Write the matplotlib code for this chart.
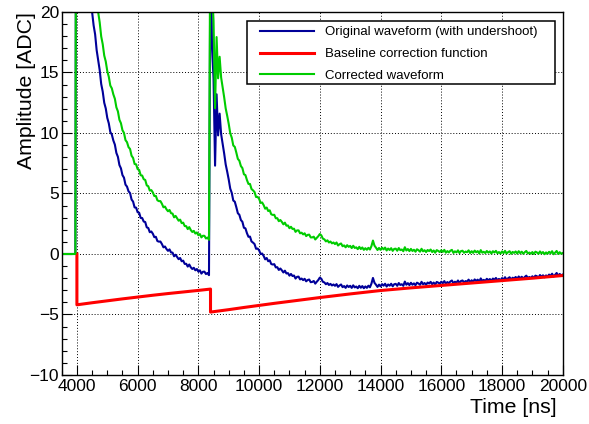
import numpy as np
import matplotlib
matplotlib.use('Agg')
import matplotlib.pyplot as plt
from matplotlib.patches import Rectangle
from matplotlib.ticker import MultipleLocator

# sampled waveforms, one value every 50 ns from 3500 ns to 20000 ns
time_ns = np.arange(3500, 20001, 50)

original = [
    0, 0, 0, 0, 0, 0, 0, 0, 0, 0,
    75.0, 55.0, 44.0, 37.0, 32.0, 28.5, 25.8, 23.9, 22.1, 20.9,
    20.0, 18.9, 18.15, 16.85, 16.05, 15.2, 14.05, 13.42, 12.5, 12.03,
    11.25, 10.8, 10.08, 9.87, 9.38, 9.04, 8.35, 8.03, 7.35, 7.08,
    6.52, 6.31, 5.73, 5.57, 5.18, 5.04, 4.5, 4.33, 3.85, 3.83,
    3.45, 3.41, 2.98, 2.97, 2.68, 2.64, 2.2, 2.15, 1.8, 1.86,
    1.68, 1.39, 1.42, 1.07, 1.02, 1.03, 0.82, 0.55, 0.62, 0.41,
    0.26, 0.38, 0.13, 0.11, -0.19, -0.06, -0.24, -0.43, -0.33, -0.6,
    -0.55, -0.82, -0.81, -1.04, -0.87, -1.1, -1.24, -1.14, -1.35, -1.24,
    -1.46, -1.35, -1.62, -1.47, -1.46, -1.66, -1.57, -1.75, 28.0, 17.0,
    14.5, 7.3, 13.2, 9.8, 11.6, 9.9, 9.1, 8.3, 7.4, 6.8,
    6.15, 5.4, 5.05, 4.42, 4.32, 3.87, 3.37, 3.24, 2.81, 2.66,
    2.17, 2.12, 1.72, 1.42, 1.44, 1.04, 0.94, 0.82, 0.43, 0.45,
    0.31, -0.01, 0.04, -0.16, -0.44, -0.33, -0.6, -0.52, -0.83, -0.87,
    -0.84, -1.11, -1.09, -1.32, -1.2, -1.35, -1.53, -1.38, -1.61, -1.58,
    -1.79, -1.65, -1.82, -1.78, -2.03, -1.89, -1.87, -2.1, -2.03, -2.16,
    -2.05, -2.26, -2.15, -2.11, -2.33, -2.31, -2.23, -2.45, -2.29, -2.15,
    -1.95, -2.05, -2.3, -2.35, -2.5, -2.4, -2.56, -2.47, -2.6, -2.52,
    -2.63, -2.49, -2.72, -2.6, -2.52, -2.74, -2.65, -2.8, -2.6, -2.73,
    -2.63, -2.8, -2.59, -2.76, -2.69, -2.83, -2.63, -2.79, -2.65, -2.83,
    -2.68, -2.8, -2.62, -2.75, -2.45, -1.98, -2.38, -2.54, -2.72, -2.53,
    -2.68, -2.49, -2.62, -2.46, -2.69, -2.52, -2.62, -2.46, -2.67, -2.5,
    -2.47, -2.63, -2.4, -2.56, -2.5, -2.63, -2.28, -2.54, -2.41, -2.57,
    -2.38, -2.54, -2.43, -2.58, -2.37, -2.44, -2.55, -2.3, -2.5, -2.4,
    -2.54, -2.36, -2.44, -2.3, -2.5, -2.36, -2.53, -2.31, -2.37, -2.45,
    -2.29, -2.42, -2.24, -2.46, -2.32, -2.42, -2.27, -2.19, -2.43, -2.29,
    -2.37, -2.19, -2.4, -2.23, -2.19, -2.35, -2.24, -2.28, -2.12, -2.33,
    -2.17, -2.3, -2.1, -2.23, -2.12, -2.3, -2.02, -2.22, -2.14, -2.23,
    -2.05, -2.18, -2.07, -2.23, -2.03, -2.13, -1.98, -2.17, -2.06, -2.18,
    -1.99, -2.12, -1.92, -2.13, -2.01, -1.92, -2.12, -1.96, -2.03, -1.9,
    -2.06, -1.86, -2.01, -1.88, -2.04, -1.9, -1.79, -1.99, -1.9, -1.99,
    -1.84, -1.99, -1.79, -1.84, -1.95, -1.74, -1.88, -1.76, -1.93, -1.77,
    -1.87, -1.7, -1.81, -1.63, -1.87, -1.72, -1.57, -1.81, -1.65, -1.77,
    -1.7,
]

corrected = [
    0, 0, 0, 0, 0, 0, 0, 0, 0, 0,
    79.2, 59.2, 48.2, 41.2, 36.1, 32.6, 29.9, 28.0, 26.2, 25.0,
    24.03, 22.91, 22.15, 20.83, 20.01, 19.15, 17.98, 17.34, 16.4, 15.91,
    15.12, 14.65, 13.92, 13.69, 13.19, 12.83, 12.12, 11.79, 11.09, 10.81,
    10.23, 10.01, 9.41, 9.24, 8.83, 8.68, 8.12, 7.94, 7.44, 7.41,
    7.01, 6.95, 6.51, 6.48, 6.18, 6.12, 5.67, 5.6, 5.24, 5.28,
    5.09, 4.79, 4.8, 4.44, 4.37, 4.37, 4.15, 3.86, 3.92, 3.69,
    3.53, 3.64, 3.37, 3.34, 3.03, 3.15, 2.95, 2.75, 2.84, 2.55,
    2.59, 2.31, 2.3, 2.06, 2.22, 1.98, 1.82, 1.91, 1.69, 1.78,
    1.55, 1.65, 1.37, 1.51, 1.5, 1.28, 1.36, 1.17, 32.8, 21.8,
    19.27, 12.05, 17.93, 14.52, 16.3, 14.58, 13.77, 12.95, 12.03, 11.42,
    10.75, 9.98, 9.61, 8.97, 8.85, 8.38, 7.86, 7.71, 7.27, 7.1,
    6.59, 6.52, 6.11, 5.79, 5.79, 5.37, 5.26, 5.12, 4.71, 4.72,
    4.56, 4.22, 4.26, 4.04, 3.74, 3.84, 3.55, 3.61, 3.28, 3.23,
    3.24, 2.95, 2.96, 2.71, 2.81, 2.65, 2.45, 2.59, 2.34, 2.36,
    2.13, 2.25, 2.07, 2.09, 1.83, 1.95, 1.95, 1.71, 1.76, 1.62,
    1.71, 1.48, 1.58, 1.6, 1.37, 1.37, 1.43, 1.2, 1.34, 1.47,
    1.65, 1.54, 1.27, 1.21, 1.04, 1.13, 0.95, 1.03, 0.88, 0.95,
    0.82, 0.95, 0.7, 0.81, 0.87, 0.64, 0.71, 0.55, 0.73, 0.59,
    0.67, 0.49, 0.68, 0.5, 0.55, 0.4, 0.59, 0.41, 0.54, 0.34,
    0.48, 0.35, 0.51, 0.37, 0.65, 1.11, 0.69, 0.52, 0.33, 0.5,
    0.34, 0.52, 0.38, 0.53, 0.29, 0.45, 0.33, 0.48, 0.26, 0.42,
    0.44, 0.27, 0.49, 0.32, 0.37, 0.23, 0.56, 0.29, 0.41, 0.24,
    0.42, 0.25, 0.35, 0.19, 0.39, 0.31, 0.19, 0.43, 0.22, 0.31,
    0.16, 0.33, 0.24, 0.37, 0.16, 0.29, 0.11, 0.32, 0.25, 0.16,
    0.31, 0.17, 0.34, 0.11, 0.24, 0.13, 0.27, 0.34, 0.09, 0.22,
    0.13, 0.3, 0.08, 0.24, 0.27, 0.1, 0.2, 0.15, 0.3, 0.08,
    0.23, 0.09, 0.28, 0.14, 0.24, 0.05, 0.32, 0.11, 0.18, 0.08,
    0.25, 0.11, 0.21, 0.04, 0.23, 0.12, 0.26, 0.06, 0.16, 0.03,
    0.21, 0.07, 0.26, 0.04, 0.15, 0.23, 0.02, 0.17, 0.09, 0.21,
    0.04, 0.23, 0.07, 0.19, 0.02, 0.15, 0.25, 0.04, 0.12, 0.02,
    0.16, 0.0, 0.19, 0.13, 0.01, 0.21, 0.05, 0.16, -0.02, 0.13,
    0.02, 0.18, 0.06, 0.23, -0.02, 0.12, 0.25, 0.0, 0.15, 0.02,
    0.08,
]

# baseline correction: steps down at each pulse, then recovers
baseline_t = [4000, 4000, 4500, 5000, 5500, 6000, 6500, 7000, 7500, 8000, 8400,
              8400, 9000, 9500, 10000, 10500, 11000, 11500, 12000, 12500, 13000,
              13500, 14000, 14500, 15000, 15500, 16000, 16500, 17000, 17500,
              18000, 18500, 19000, 19500, 20000]
baseline = [0, -4.20, -4.03, -3.87, -3.71, -3.56, -3.41, -3.27, -3.14, -3.01, -2.90,
            -4.80, -4.60, -4.42, -4.25, -4.08, -3.92, -3.76, -3.60, -3.45, -3.30,
            -3.16, -3.02, -2.91, -2.80, -2.70, -2.60, -2.50, -2.40, -2.30,
            -2.20, -2.10, -2.00, -1.89, -1.78]

labels = ['Original waveform (with undershoot)', 'Baseline correction function',
          'Corrected waveform']

plt.rcParams['font.family'] = ['Liberation Sans', 'DejaVu Sans']

fig = plt.figure(figsize=(5.89, 4.24), dpi=100)
ax = fig.add_axes([0.1048, 0.1156, 0.8506, 0.8561])

ax.plot(time_ns, original, color='#000099', lw=1.5, label=labels[0])
ax.plot(baseline_t, baseline, color='#ff0000', lw=2.2, label=labels[1])
ax.plot(time_ns, corrected, color='#00cc00', lw=1.5, label=labels[2])

ax.set_xlim(3500, 20000)
ax.set_ylim(-10, 20)
ax.xaxis.set_major_locator(MultipleLocator(2000))
ax.xaxis.set_minor_locator(MultipleLocator(500))
ax.yaxis.set_major_locator(MultipleLocator(5))
ax.yaxis.set_minor_locator(MultipleLocator(1))
ax.tick_params(which='both', direction='in', top=False, right=False, width=0.8)
ax.tick_params(which='major', length=7)
ax.tick_params(which='minor', length=3.6)
ax.tick_params(axis='x', labelsize=12.5, pad=3)
ax.tick_params(axis='y', labelsize=12.5, pad=2)
for sp in ax.spines.values():
    sp.set_linewidth(1.0)

ax.grid(True, which='major', linestyle=(0, (1, 2)), color='black', lw=0.7)

ax.set_xlabel('Time [ns]', fontsize=15.3, loc='right')
ax.xaxis.set_label_coords(0.9886, -0.063)
ax.set_ylabel('Amplitude [ADC]', fontsize=15.3, loc='top')
ax.yaxis.set_label_coords(-0.051, 1.0)

# legend box drawn on its own so the entries can sit inset from the border
box = Rectangle((0.3705, 0.8017), 0.6141, 0.1743, transform=ax.transAxes,
                facecolor='white', edgecolor='black', lw=1.1, zorder=4.9)
ax.add_patch(box)
leg = ax.legend(loc='upper left', bbox_to_anchor=(0.3838, 0.976), frameon=False,
                fontsize=9.5, handlelength=4.1, handletextpad=0.83,
                labelspacing=0.72, borderpad=0.42, borderaxespad=0)
leg.set_zorder(5)

fig.savefig('out.png', dpi=100)
